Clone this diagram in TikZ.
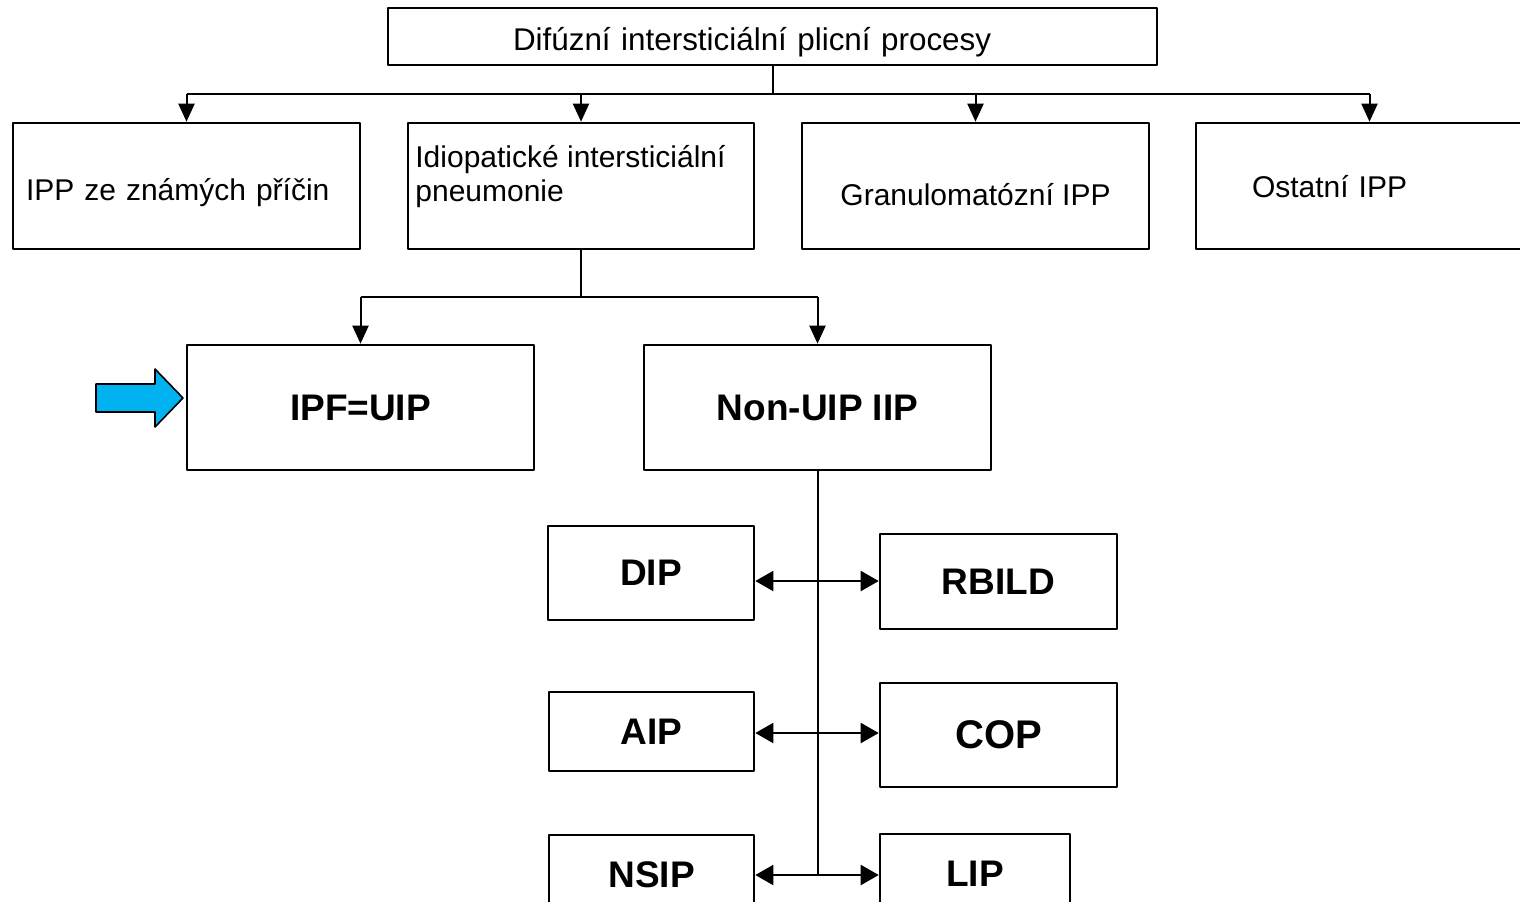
\documentclass[tikz,border=0pt]{standalone}
\usepackage{fontspec}
\setmainfont{Liberation Sans}
\usetikzlibrary{arrows.meta}
\definecolor{sipka}{RGB}{0,178,240}

\begin{document}
\begin{tikzpicture}[x=0.5pt, y=-0.5pt, line join=round,
	box/.style={draw, line width=1.3pt, rectangle, minimum width=173.5pt, minimum height=63pt, text depth=0pt, font=\fontsize{15}{17}\selectfont},
	small/.style={draw, line width=1.3pt, rectangle, font=\bfseries\fontsize{18.5}{20}\selectfont},
	conn/.style={line width=1pt},
	dn/.style={conn, -{Triangle[length=9pt,width=8pt]}},
	both/.style={conn, {Triangle[length=9pt,width=10pt]}-{Triangle[length=9pt,width=10pt]}}]
	\useasboundingbox (0,0) rectangle (1520,901);
	\clip (0,0) rectangle (1520,901);
	
	% Horní box
	\node[box, minimum width=384.5pt, minimum height=28.5pt, text width=259.5pt, text height=13.5pt, inner xsep=62.5pt, align=left, font=\fontsize{15.7}{18}\selectfont] (dipp) at (772.5,36.5) {Difúzní intersticiální plicní procesy};
	
	% Druhá řada
	\node[box, text width=160.5pt, text height=14pt, inner xsep=6.5pt, align=left] (znam) at (186.5,186) {IPP ze známých příčin};
	\node[box, minimum width=173pt] (iip) at (581,186) {};
	\node[anchor=base west, align=left, inner sep=0pt, font=\fontsize{15}{17}\selectfont] (iiptext) at (415,201) {Idiopatické intersticiální\\pneumonie};
	\node[box, text height=19.5pt] (gran) at (975.5,186) {Granulomatózní IPP};
	\node[box, text width=117.5pt, text height=11pt, inner xsep=28pt, align=left] (ost) at (1369.5,186) {Ostatní IPP};
	
	% Třetí řada
	\node[small, minimum width=173.5pt, minimum height=62.5pt] (ipf) at (360.5,407.5) {IPF=UIP};
	\node[small, minimum width=173.5pt, minimum height=62.5pt] (nonuip) at (817.5,407.5) {Non-UIP IIP};
	
	% Non-UIP IIP
	\node[small, minimum width=103pt, minimum height=47pt] (dip) at (651,573) {DIP};
	\node[small, minimum width=118.5pt, minimum height=47.5pt] (rbild) at (998.5,581.5) {RBILD};
	\node[small, minimum width=102.5pt, minimum height=39.5pt] (aip) at (651.5,731.5) {AIP};
	\node[small, minimum width=118.5pt, minimum height=52pt, font=\bfseries\fontsize{20}{22}\selectfont] (cop) at (998.5,735) {COP};
	\node[small, minimum width=102.5pt, minimum height=40pt] (nsip) at (651.5,875) {NSIP};
	\node[small, minimum width=95pt, minimum height=40pt] (lip) at (975,874) {LIP};
	
	% Spojnice
	\coordinate (h1) at (772,94);
	\coordinate (h2) at (581,297);
	\coordinate (r1) at (818,581);
	\coordinate (r2) at (818,733);
	\coordinate (r3) at (818,875);
	
	\draw[conn] (dipp.south) -- (dipp.south |- h1);
	\draw[conn] (znam.north |- h1) -- (ost.north |- h1);
	\foreach \n in {znam,iip,gran,ost}
		\draw[dn] (\n.north |- h1) -- (\n.north);
	
	\draw[conn] (iip.south) -- (h2);
	\draw[conn] (ipf.north |- h2) -- (nonuip.north |- h2);
	\foreach \n in {ipf,nonuip}
		\draw[dn] (\n.north |- h2) -- (\n.north);
	
	\draw[conn] (nonuip.south) -- (nonuip.south |- r3);
	\draw[both] (dip.east |- r1) -- (rbild.west |- r1);
	\draw[both] (aip.east |- r2) -- (cop.west |- r2);
	\draw[both] (nsip.east |- r3) -- (lip.west |- r3);
	
	% Modrá šipka
	\draw[line width=0.8pt, fill=sipka] (96,384) -- (155,384) -- (155,369) -- (183,398) -- (155,427) -- (155,412) -- (96,412) -- cycle;
\end{tikzpicture}
\end{document}
